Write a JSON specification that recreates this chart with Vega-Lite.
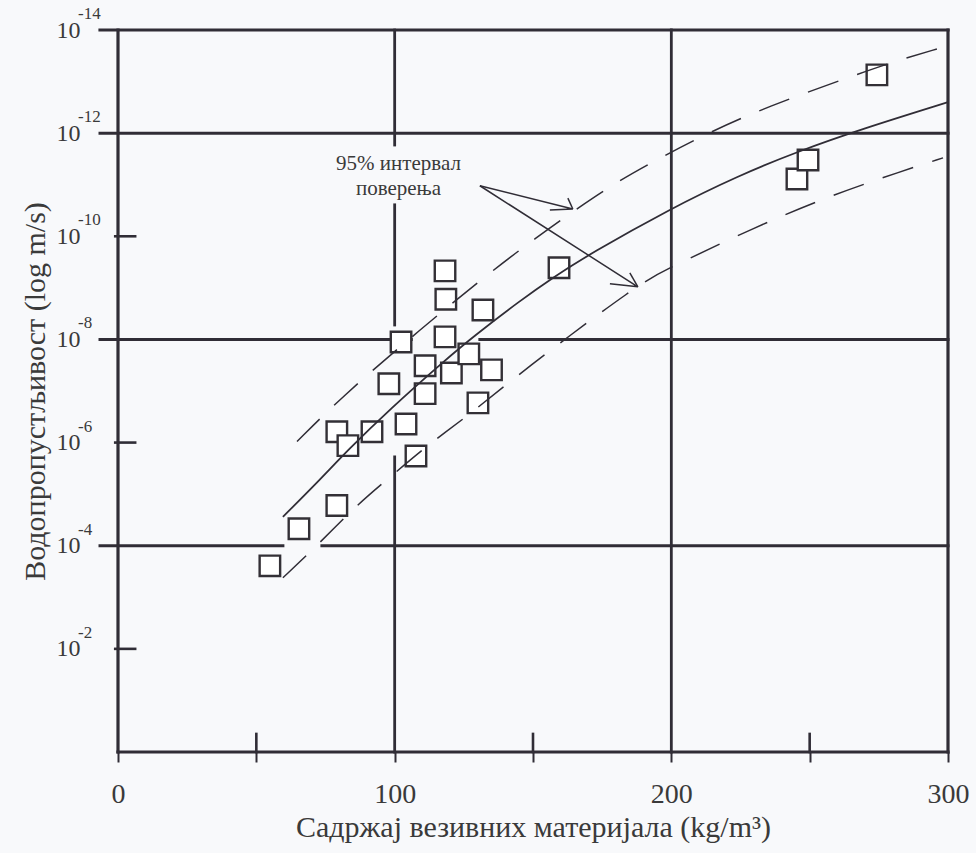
{
  "$schema": "https://vega.github.io/schema/vega-lite/v6.json",
  "width": 830,
  "height": 722,
  "autosize": {"type": "none"},
  "padding": {"left": 118, "top": 30, "right": 28, "bottom": 101},
  "background": "#f8f9fb",
  "config": {"view": {"stroke": null}, "font": "'Liberation Serif', 'Times New Roman', 'DejaVu Serif', serif"},
  "datasets": {
    "frame": [
      {"x": 0, "x2": 0, "e": -14, "e2": 0, "kind": "frame"},
      {"x": 300, "x2": 300, "e": -14, "e2": 0, "kind": "frame"},
      {"x": -6.5, "x2": 300, "e": -14, "e2": -14, "kind": "frame"},
      {"x": 0, "x2": 300, "e": 0, "e2": 0, "kind": "frame"},
      {"x": -6.5, "x2": 300, "e": -12, "e2": -12, "kind": "hgrid"},
      {"x": -6.5, "x2": 106, "e": -8, "e2": -8, "kind": "hgrid"},
      {"x": 130.8, "x2": 300, "e": -8, "e2": -8, "kind": "hgrid"},
      {"x": -6.5, "x2": 59.6, "e": -4, "e2": -4, "kind": "hgrid"},
      {"x": 73.7, "x2": 300, "e": -4, "e2": -4, "kind": "hgrid"},
      {"x": 100, "x2": 100, "e": -14, "e2": -11.77, "kind": "vgrid"},
      {"x": 100, "x2": 100, "e": -10.61, "e2": -8.28, "kind": "vgrid"},
      {"x": 100, "x2": 100, "e": -5.72, "e2": 0, "kind": "vgrid"},
      {"x": 200, "x2": 200, "e": -14, "e2": 0, "kind": "vgrid"},
      {"x": -1, "x2": 6.2, "e": -10, "e2": -10, "kind": "tick"},
      {"x": -1, "x2": 6.2, "e": -6, "e2": -6, "kind": "tick"},
      {"x": -1, "x2": 6.2, "e": -2, "e2": -2, "kind": "tick"},
      {"x": 50, "x2": 50, "e": -0.35, "e2": 0, "kind": "tick"},
      {"x": 150, "x2": 150, "e": -0.35, "e2": 0, "kind": "tick"},
      {"x": 250, "x2": 250, "e": -0.35, "e2": 0, "kind": "tick"}
    ],
    "samples": [
      {"x": 54.9, "e": -3.61}, {"x": 65.4, "e": -4.33}, {"x": 79.1, "e": -4.78},
      {"x": 79.1, "e": -6.21}, {"x": 83.1, "e": -5.94}, {"x": 91.8, "e": -6.21},
      {"x": 97.9, "e": -7.14}, {"x": 102.3, "e": -7.95}, {"x": 104.1, "e": -6.36},
      {"x": 107.7, "e": -5.74}, {"x": 111.0, "e": -6.95}, {"x": 111.0, "e": -7.49},
      {"x": 118.2, "e": -9.33}, {"x": 118.5, "e": -8.78}, {"x": 118.2, "e": -8.05},
      {"x": 120.5, "e": -7.35}, {"x": 126.8, "e": -7.72}, {"x": 131.9, "e": -8.57},
      {"x": 135.0, "e": -7.41}, {"x": 130.1, "e": -6.77}, {"x": 159.4, "e": -9.39},
      {"x": 245.4, "e": -11.11}, {"x": 249.4, "e": -11.48}, {"x": 274.3, "e": -13.13}
    ],
    "fit": [
      {"x": 59.6, "e": -4.56}, {"x": 73.0, "e": -5.28}, {"x": 82.8, "e": -5.84},
      {"x": 98.3, "e": -6.65}, {"x": 118.9, "e": -7.63}, {"x": 128.3, "e": -8.05},
      {"x": 145.3, "e": -8.75}, {"x": 157.2, "e": -9.20}, {"x": 170.6, "e": -9.66},
      {"x": 199.5, "e": -10.53}, {"x": 224.0, "e": -11.17}, {"x": 246.5, "e": -11.66},
      {"x": 268.9, "e": -12.08}, {"x": 300.0, "e": -12.60}
    ],
    "band": [
      {"bound": "upper", "x": 64.7, "e": -6.02}, {"bound": "upper", "x": 81.0, "e": -6.89},
      {"bound": "upper", "x": 104.8, "e": -7.99}, {"bound": "upper", "x": 129.7, "e": -9.10},
      {"bound": "upper", "x": 151.4, "e": -9.99}, {"bound": "upper", "x": 169.5, "e": -10.67},
      {"bound": "upper", "x": 180.3, "e": -11.05}, {"bound": "upper", "x": 195.9, "e": -11.52},
      {"bound": "upper", "x": 213.9, "e": -12.02}, {"bound": "upper", "x": 234.5, "e": -12.51},
      {"bound": "upper", "x": 265.6, "e": -13.11}, {"bound": "upper", "x": 280.1, "e": -13.38},
      {"bound": "upper", "x": 297.1, "e": -13.65},
      {"bound": "lower", "x": 59.6, "e": -3.38}, {"bound": "lower", "x": 71.2, "e": -3.96},
      {"bound": "lower", "x": 85.7, "e": -4.76}, {"bound": "lower", "x": 97.2, "e": -5.28},
      {"bound": "lower", "x": 113.5, "e": -6.02}, {"bound": "lower", "x": 126.1, "e": -6.50},
      {"bound": "lower", "x": 145.3, "e": -7.35}, {"bound": "lower", "x": 188.7, "e": -9.10},
      {"bound": "lower", "x": 199.5, "e": -9.39}, {"bound": "lower", "x": 229.5, "e": -10.16},
      {"bound": "lower", "x": 257.0, "e": -10.78}, {"bound": "lower", "x": 283.7, "e": -11.27},
      {"bound": "lower", "x": 298.2, "e": -11.52}
    ],
    "pointers": [
      {"seg": "a", "i": 1, "x": 130.8, "e": -10.98},
      {"seg": "a", "i": 2, "x": 164.4, "e": -10.53},
      {"seg": "a", "i": 3, "x": 156.1, "e": -10.51},
      {"seg": "ah", "i": 1, "x": 164.4, "e": -10.53},
      {"seg": "ah", "i": 2, "x": 162.6, "e": -10.74},
      {"seg": "b", "i": 1, "x": 130.8, "e": -10.98},
      {"seg": "b", "i": 2, "x": 187.9, "e": -9.02},
      {"seg": "b", "i": 3, "x": 177.8, "e": -9.08},
      {"seg": "bh", "i": 1, "x": 187.9, "e": -9.02},
      {"seg": "bh", "i": 2, "x": 185.0, "e": -9.29}
    ],
    "note": [
      {"x": 101.4, "e": -11.40, "t": "95% интервал\nповерења"}
    ],
    "powers": [
      {"e": -14, "t": "-14"}, {"e": -12, "t": "-12"}, {"e": -10, "t": "-10"},
      {"e": -8, "t": "-8"}, {"e": -6, "t": "-6"}, {"e": -4, "t": "-4"}, {"e": -2, "t": "-2"}
    ]
  },
  "layer": [
    {
      "data": {"name": "frame"},
      "mark": {"type": "rule", "color": "#302d36", "strokeCap": "square"},
      "encoding": {
        "x": {
          "field": "x", "type": "quantitative",
          "scale": {"domain": [0, 300], "nice": false, "zero": false},
          "axis": {
            "values": [0, 50, 100, 150, 200, 250, 300],
            "labelExpr": "datum.value % 100 == 0 ? datum.label : ''",
            "domain": false, "grid": false,
            "tickSize": 10, "tickWidth": 2, "tickColor": "#302d36",
            "labelPadding": 18, "labelFontSize": 28, "labelColor": "#3a3a3a",
            "labelFont": "'Liberation Serif', 'Times New Roman', 'DejaVu Serif', serif",
            "labelFlush": false, "labelOverlap": false,
            "title": "Садржај везивних материјала (kg/m³)",
            "titleFont": "'Liberation Serif', 'Times New Roman', 'DejaVu Serif', serif",
            "titleFontSize": 30, "titleFontWeight": "normal",
            "titleColor": "#3a3a3a", "titlePadding": 4
          }
        },
        "x2": {"field": "x2"},
        "y": {
          "field": "e", "type": "quantitative",
          "scale": {"domain": [-14, 0], "nice": false, "zero": false, "reverse": true},
          "axis": {
            "values": [-14, -12, -10, -8, -6, -4, -2],
            "labelExpr": "'10'",
            "domain": false, "grid": false, "ticks": false,
            "labelPadding": 38, "labelFontSize": 24, "labelColor": "#3a3a3a",
            "labelFont": "'Liberation Serif', 'Times New Roman', 'DejaVu Serif', serif",
            "labelFlush": false, "labelOverlap": false,
            "title": "Водопропустљивост (log m/s)",
            "titleFont": "'Liberation Serif', 'Times New Roman', 'DejaVu Serif', serif",
            "titleFontSize": 30, "titleFontWeight": "normal",
            "titleColor": "#3a3a3a", "titlePadding": 6
          }
        },
        "y2": {"field": "e2"},
        "strokeWidth": {
          "field": "kind", "type": "nominal",
          "scale": {"domain": ["frame", "hgrid", "vgrid", "tick"], "range": [3.2, 2.6, 2, 2]},
          "legend": null
        }
      }
    },
    {
      "data": {"name": "samples"},
      "mark": {"type": "point", "shape": "square", "size": 420, "filled": true, "fill": "#ffffff", "stroke": "#333036", "strokeWidth": 2.4, "opacity": 1},
      "encoding": {
        "x": {"field": "x", "type": "quantitative"},
        "y": {"field": "e", "type": "quantitative"}
      }
    },
    {
      "data": {"name": "fit"},
      "mark": {"type": "line", "color": "#302d36", "strokeWidth": 1.8, "interpolate": "basis"},
      "encoding": {
        "x": {"field": "x", "type": "quantitative"},
        "y": {"field": "e", "type": "quantitative"}
      }
    },
    {
      "data": {"name": "band"},
      "mark": {"type": "line", "color": "#302d36", "strokeWidth": 1.5, "strokeDash": [32, 20], "interpolate": "basis"},
      "encoding": {
        "x": {"field": "x", "type": "quantitative"},
        "y": {"field": "e", "type": "quantitative"},
        "detail": {"field": "bound"}
      }
    },
    {
      "data": {"name": "pointers"},
      "mark": {"type": "line", "color": "#302d36", "strokeWidth": 1.5},
      "encoding": {
        "x": {"field": "x", "type": "quantitative"},
        "y": {"field": "e", "type": "quantitative"},
        "detail": {"field": "seg"},
        "order": {"field": "i"}
      }
    },
    {
      "data": {"name": "note"},
      "mark": {"type": "text", "font": "'Liberation Serif', 'Times New Roman', 'DejaVu Serif', serif", "fontSize": 21, "color": "#3a3a3a", "align": "center", "baseline": "middle", "lineBreak": "\n", "lineHeight": 25},
      "encoding": {
        "x": {"field": "x", "type": "quantitative"},
        "y": {"field": "e", "type": "quantitative"},
        "text": {"field": "t"}
      }
    },
    {
      "data": {"name": "powers"},
      "mark": {"type": "text", "font": "'Liberation Serif', 'Times New Roman', 'DejaVu Serif', serif", "fontSize": 17, "color": "#3a3a3a", "align": "left", "baseline": "middle", "dx": -40, "dy": -16},
      "encoding": {
        "x": {"datum": 0},
        "y": {"field": "e", "type": "quantitative"},
        "text": {"field": "t"}
      }
    }
  ]
}
